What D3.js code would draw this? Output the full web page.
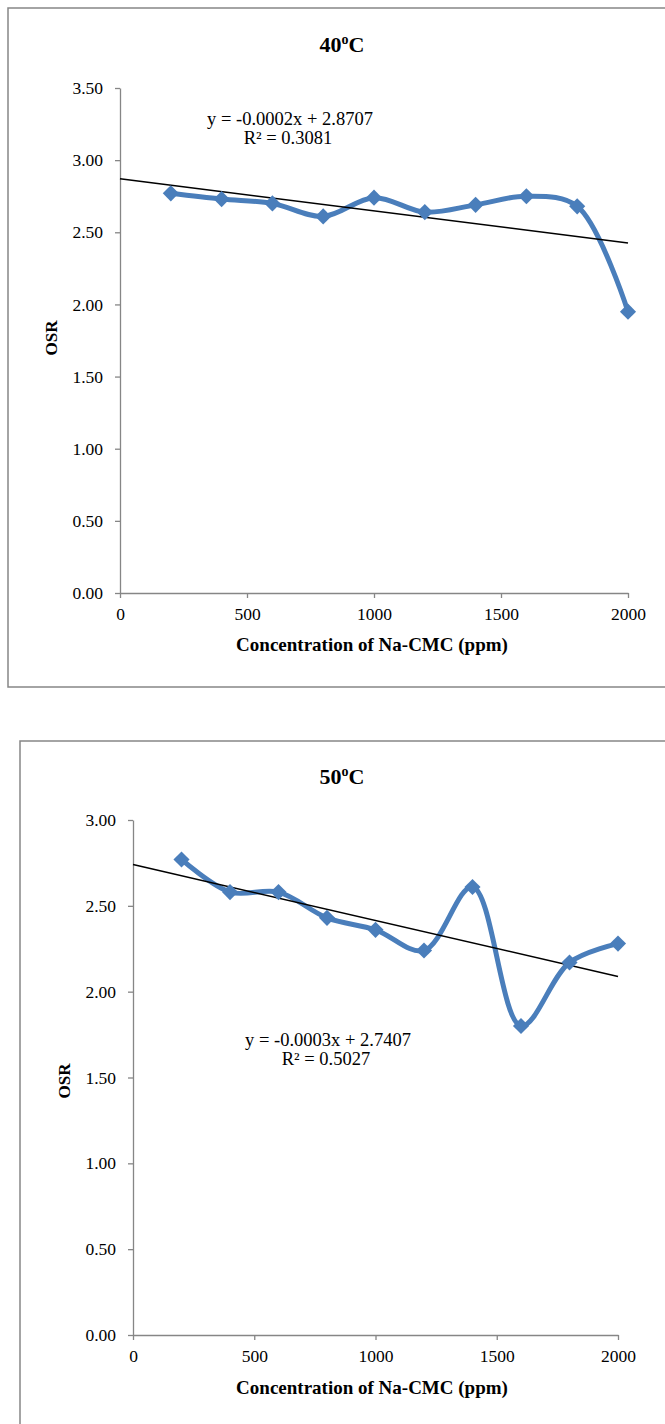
<!DOCTYPE html>
<html>
<head>
<meta charset="utf-8">
<script src="https://cdn.jsdelivr.net/npm/d3@7"></script>
<style>
  body { margin: 0; background: #fff; }
  svg { display: block; }
  text { font-family: "Liberation Serif", "Times New Roman", serif; fill: #000; }
</style>
</head>
<body>
<div id="chart-area"></div>
<script>
// datos
const concentrations = [200, 400, 600, 800, 1000, 1200, 1400, 1600, 1800, 2000];
const osr40 = [2.77, 2.73, 2.70, 2.61, 2.74, 2.64, 2.69, 2.75, 2.68, 1.95];
const osr50 = [2.77, 2.58, 2.58, 2.43, 2.36, 2.24, 2.61, 1.80, 2.17, 2.28];
const xTicks = [0, 500, 1000, 1500, 2000];
const yTicks40 = [0, 0.5, 1, 1.5, 2, 2.5, 3, 3.5];
const yTicks50 = [0, 0.5, 1, 1.5, 2, 2.5, 3];

const svg = d3.select("#chart-area")
    .append("svg")
    .attr("width", 665)
    .attr("height", 1424);

// regresion lineal simple
function linearFit(xs, ys) {
    const mx = d3.mean(xs), my = d3.mean(ys);
    let sxy = 0, sxx = 0;
    xs.forEach((x, i) => {
        sxy += (x - mx) * (ys[i] - my);
        sxx += (x - mx) * (x - mx);
    });
    const slope = sxy / sxx;
    return { slope: slope, intercept: my - slope * mx };
}

function drawChart(cfg) {
    const g = svg.append("g");

    // marco
    g.append("rect")
        .attr("x", cfg.frame[0]).attr("y", cfg.frame[1])
        .attr("width", cfg.frame[2]).attr("height", cfg.frame[3])
        .attr("fill", "none")
        .attr("stroke", "#868686")
        .attr("stroke-width", 1.5);

    const x = d3.scaleLinear().domain([0, 2000]).range([cfg.left, cfg.right]);
    const y = d3.scaleLinear().domain([0, cfg.yMax]).range([cfg.bottom, cfg.top]);

    const xAxis = g.append("g")
        .attr("transform", `translate(0,${cfg.bottom})`)
        .call(d3.axisBottom(x).tickValues(xTicks).tickFormat(d3.format("d"))
            .tickSize(5).tickSizeOuter(0).tickPadding(10));

    const yAxis = g.append("g")
        .attr("transform", `translate(${cfg.left},0)`)
        .call(d3.axisLeft(y).tickValues(cfg.yTicks).tickFormat(d3.format(".2f"))
            .tickSize(5).tickSizeOuter(0).tickPadding(cfg.yPad));

    [xAxis, yAxis].forEach(a => {
        a.selectAll("path, line").attr("stroke", "#868686").attr("stroke-width", 1.3);
        a.selectAll("text")
            .style("font-family", "'Liberation Serif', serif")
            .style("font-size", "17.5px")
            .attr("fill", "#000");
    });

    // titulo
    const title = g.append("text")
        .attr("x", 342).attr("y", cfg.titleY)
        .attr("text-anchor", "middle")
        .style("font-size", "22px")
        .style("font-weight", "bold");
    title.append("tspan").text(cfg.temp);
    title.append("tspan").text("o").attr("dy", -8).style("font-size", "14px");
    title.append("tspan").text("C").attr("dy", 8);

    // titulos de ejes
    g.append("text")
        .attr("x", 372).attr("y", cfg.xTitleY)
        .attr("text-anchor", "middle")
        .style("font-size", "19px")
        .style("font-weight", "bold")
        .text("Concentration of Na-CMC (ppm)");

    g.append("text")
        .attr("transform", `translate(${cfg.yTitleX},${cfg.yTitleY}) rotate(-90)`)
        .attr("text-anchor", "middle")
        .style("font-size", "17px")
        .style("font-weight", "bold")
        .text("OSR");

    const pts = concentrations.map((c, i) => [c, cfg.values[i]]);

    // serie suavizada
    g.append("path")
        .datum(pts)
        .attr("fill", "none")
        .attr("stroke", "#4A7EBB")
        .attr("stroke-width", 5)
        .attr("stroke-linejoin", "round")
        .attr("d", d3.line().x(d => x(d[0])).y(d => y(d[1])).curve(d3.curveCatmullRom.alpha(0.5)));

    // linea de tendencia
    const fit = linearFit(concentrations, cfg.values);
    g.append("line")
        .attr("x1", x(0)).attr("y1", y(fit.intercept))
        .attr("x2", x(2000)).attr("y2", y(fit.intercept + fit.slope * 2000))
        .attr("stroke", "#000")
        .attr("stroke-width", 1.5);

    // marcadores rombo
    g.selectAll(".marker")
        .data(pts)
        .enter()
        .append("rect")
        .attr("class", "marker")
        .attr("x", -5.7).attr("y", -5.7)
        .attr("width", 11.4).attr("height", 11.4)
        .attr("fill", "#4A7EBB")
        .attr("transform", d => `translate(${x(d[0])},${y(d[1])}) rotate(45)`);

    // ecuacion
    g.append("text")
        .attr("x", cfg.eq[0]).attr("y", cfg.eq[1])
        .attr("text-anchor", "middle")
        .style("font-size", "18.5px")
        .text(cfg.eqText);
    g.append("text")
        .attr("x", cfg.eq[0] - 2).attr("y", cfg.eq[1] + 19)
        .attr("text-anchor", "middle")
        .style("font-size", "18.5px")
        .text(cfg.r2Text);
}

drawChart({
    temp: "40",
    values: osr40,
    yTicks: yTicks40,
    yMax: 3.5,
    frame: [8, 8, 700, 679],
    left: 120, right: 628, top: 88, bottom: 593,
    yPad: 12,
    titleY: 52,
    xTitleY: 651,
    yTitleX: 57, yTitleY: 338,
    eq: [290, 125],
    eqText: "y = -0.0002x + 2.8707",
    r2Text: "R² = 0.3081"
});

drawChart({
    temp: "50",
    values: osr50,
    yTicks: yTicks50,
    yMax: 3.0,
    frame: [20, 741, 700, 720],
    left: 133, right: 618, top: 820, bottom: 1335,
    yPad: 12,
    titleY: 784,
    xTitleY: 1394,
    yTitleX: 70, yTitleY: 1081,
    eq: [328, 1046],
    eqText: "y = -0.0003x + 2.7407",
    r2Text: "R² = 0.5027"
});
</script>
</body>
</html>
